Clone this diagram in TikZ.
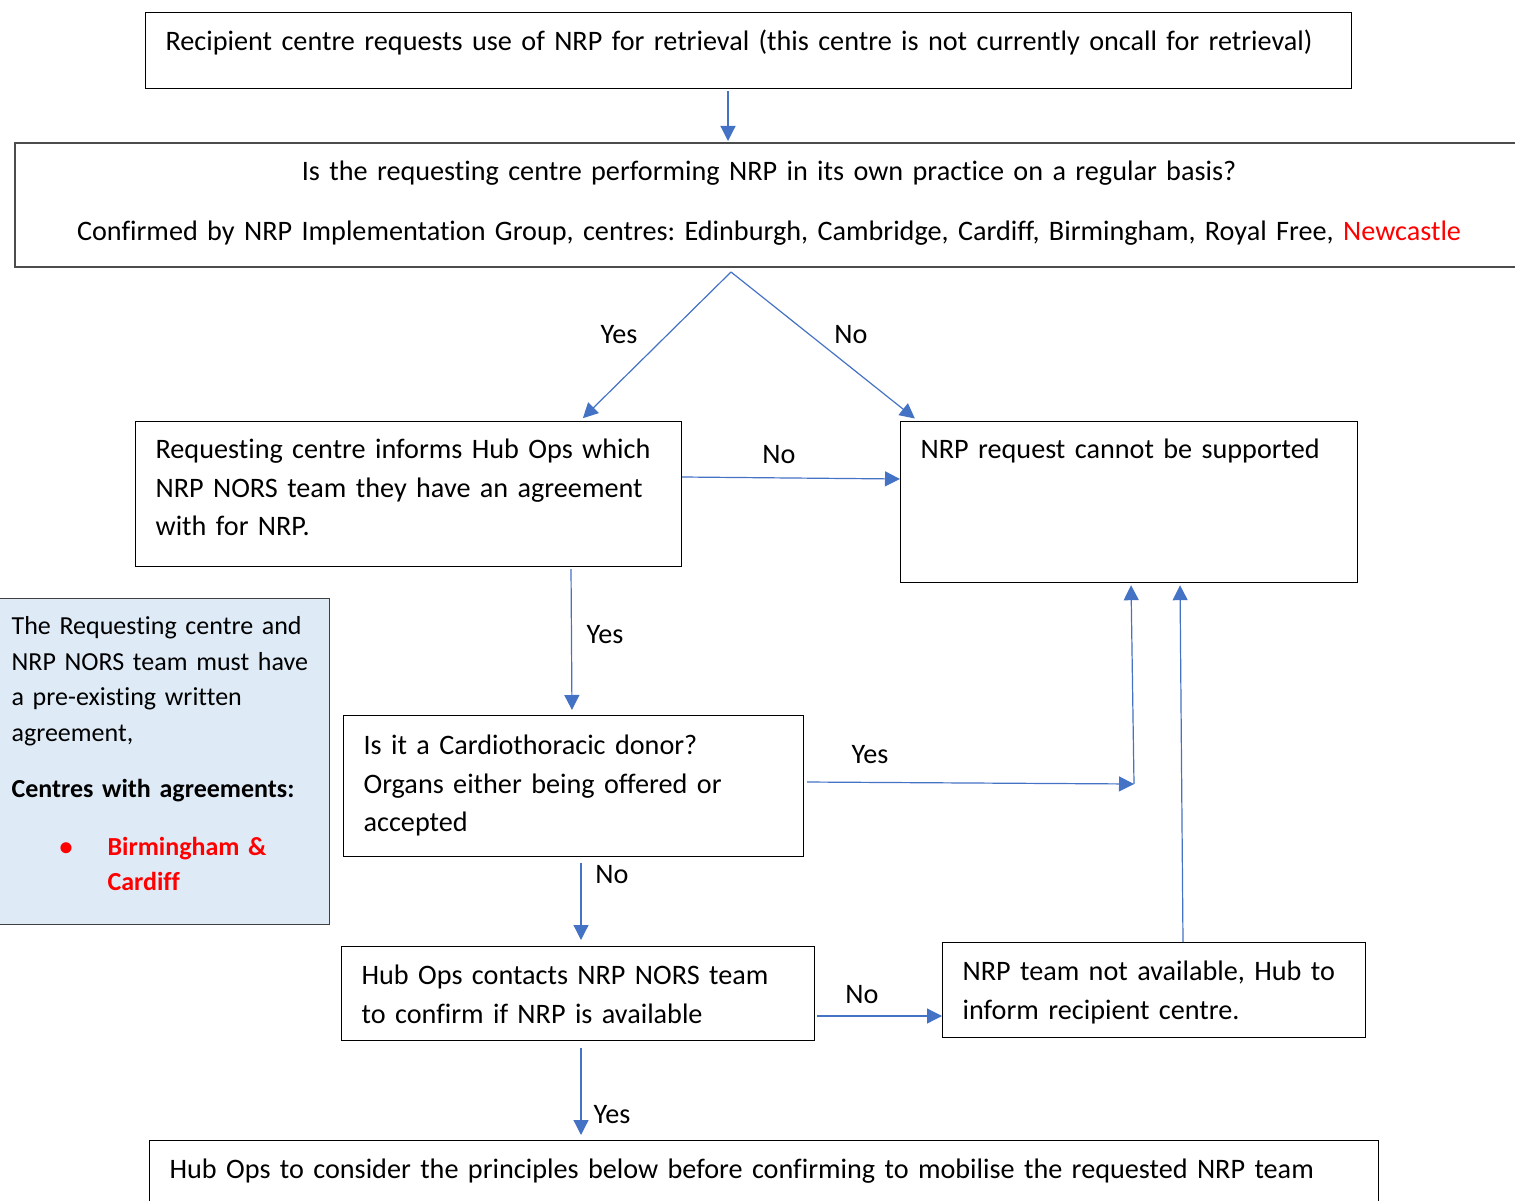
\documentclass[tikz,border=0pt]{standalone}
\usepackage{fontspec}
\setmainfont{Carlito}[Ligatures=CommonOff]
\usetikzlibrary{arrows.meta}
\definecolor{flowblue}{HTML}{4472C4}
\definecolor{notefill}{HTML}{DEEBF7}
\definecolor{nrpred}{HTML}{FF0000}
\frenchspacing
\begin{document}
\begin{tikzpicture}[
  x=1pt, y=-1pt,
  >={Triangle[length=15pt,width=15pt]},
  box/.style={draw, line width=1.2pt, anchor=north west, inner xsep=20pt, inner ysep=0pt,
    align=left, font=\fontsize{28.2}{38.5}\selectfont},
  note/.style={draw=black!75, line width=1.2pt, fill=notefill, anchor=north west,
    inner xsep=12pt, inner ysep=0pt, align=left, font=\fontsize{26}{35.5}\selectfont},
  flow/.style={->, draw=flowblue, line width=1.2pt},
  lab/.style={inner sep=1pt, font=\fontsize{28.2}{30}\selectfont}
]
  \useasboundingbox (0,0) rectangle (1515,1201);
  \clip (0,0) rectangle (1515,1201);

  \node (req) [box, text width=1166pt, text height=38pt, text depth=38pt] at (145,12)
    {Recipient centre requests use of NRP for retrieval (this centre is not currently oncall for retrieval)};
  \node (ask) [box, draw=black!70, line width=2pt, align=center, text width=1468pt, text height=38pt, text depth=86pt] at (14,142)
    {Is the requesting centre performing NRP in its own practice on a regular basis?\\[21.5pt]
     Confirmed by NRP Implementation Group, centres: Edinburgh, Cambridge, Cardiff, Birmingham, Royal Free, \textcolor{nrpred}{Newcastle}};
  \node (agree) [box, text width=506pt, text height=37pt, text depth=108pt] at (135,421)
    {Requesting centre informs Hub Ops which\\NRP NORS team they have an agreement\\with for NRP.};
  \node (nosup) [box, text width=417pt, text height=37pt, text depth=124pt] at (900,421)
    {NRP request cannot be supported};
  \node (cardio) [box, text width=420pt, text height=39pt, text depth=102pt] at (343,715)
    {Is it a Cardiothoracic donor?\\Organs either being offered or\\accepted};
  \node (hubops) [box, text width=433pt, text height=38pt, text depth=56pt] at (341,946)
    {Hub Ops contacts NRP NORS team\\to confirm if NRP is available};
  \node (busy) [box, text width=383pt, text height=38pt, text depth=57pt] at (942,942)
    {NRP team not available, Hub to\\inform recipient centre.};
  \node (final) [box, text width=1189pt, text height=38pt, text depth=100pt] at (149,1140)
    {Hub Ops to consider the principles below before confirming to mobilise the requested NRP team};
  \node (note) [note, text width=306pt, text height=36pt, text depth=290pt] at (-1,598)
    {The Requesting centre and\\NRP NORS team must have\\a pre-existing written\\agreement,\\[20.5pt]
     \textbf{Centres with agreements:}\\[22.5pt]
     \textcolor{nrpred}{\bfseries\makebox[96pt][l]{\hspace{48pt}\textbullet}Birmingham \&}\\
     \textcolor{nrpred}{\bfseries\hspace{96pt}Cardiff}};

  \coordinate (fork) at ([yshift=-4pt]ask.south -| 731,0);
  \coordinate (join) at (1134,784);

  \draw[flow, shorten <=2pt, shorten >=1pt] (728,0 |- req.south) -- (728,0 |- ask.north);
  \draw[flow, shorten >=4pt] (fork) -- (580,0 |- agree.north);
  \draw[flow, shorten >=4pt] (fork) -- (918,0 |- nosup.north);
  \draw[flow] (agree.east |- 0,477) -- (nosup.west |- 0,479);
  \draw[flow, shorten <=2pt, shorten >=5pt] (571,0 |- agree.south) -- (572,0 |- cardio.north);
  \draw[flow, shorten <=3pt] (cardio.east |- 0,782) -- (join);
  \draw[flow, shorten >=2pt] (join) -- (1131,0 |- nosup.south);
  \draw[flow, shorten >=2pt] (1183,0 |- busy.north) -- (1180,0 |- nosup.south);
  \draw[flow, shorten <=6pt, shorten >=6pt] (581,0 |- cardio.south) -- (581,0 |- hubops.north);
  \draw[flow, shorten <=2pt] (hubops.east |- 0,1016) -- (busy.west |- 0,1016);
  \draw[flow, shorten <=7pt, shorten >=5pt] (581,0 |- hubops.south) -- (581,0 |- final.north);

  \node (y1) [lab] at (619,335) {Yes};
  \node (n1) [lab] at (851,335) {No};
  \node (n2) [lab] at (779,455) {No};
  \node (y2) [lab] at (605,635) {Yes};
  \node (y3) [lab] at (870,755) {Yes};
  \node (n3) [lab] at (612,875) {No};
  \node (n4) [lab] at (862,995) {No};
  \node (y4) [lab] at (612,1115) {Yes};
\end{tikzpicture}
\end{document}
